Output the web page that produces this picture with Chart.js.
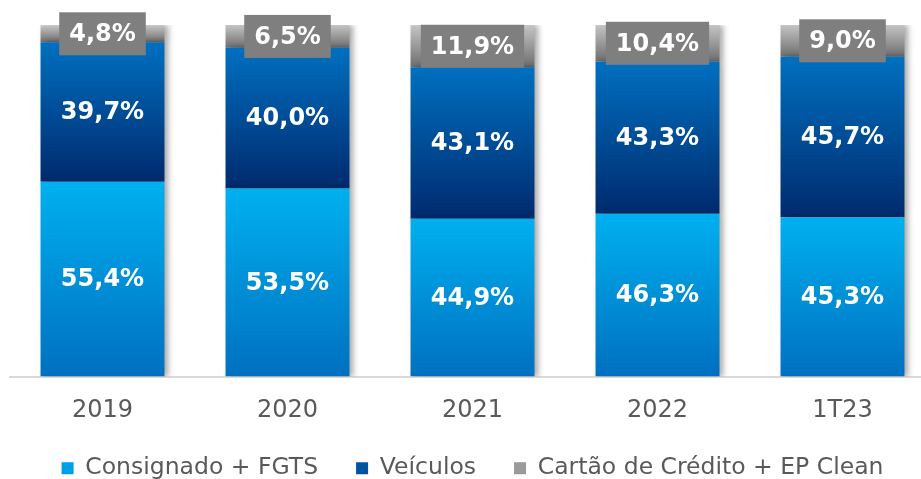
<!DOCTYPE html>
<html lang="pt">
<head>
    <meta charset="UTF-8">
    <title>Carteira por produto</title>
    <script src="https://cdn.jsdelivr.net/npm/chart.js"></script>
    <style>
        body {
            margin: 0;
            overflow: hidden;
            background: #ffffff;
        }
        #chart {
            display: block;
        }
    </style>
</head>
<body>
    <canvas id="chart" width="944" height="490"></canvas>

    <script>
        const categories = ['2019', '2020', '2021', '2022', '1T23'];
        const consignado = [55.4, 53.5, 44.9, 46.3, 45.3];
        const veiculos = [39.7, 40.0, 43.1, 43.3, 45.7];
        const cartao = [4.8, 6.5, 11.9, 10.4, 9.0];

        // vertical gradient over one stacked segment
        function segGradient(context, top, bottom) {
            const chart = context.chart;
            if (!chart.chartArea || context.type !== 'data') return top;
            const yScale = chart.scales.y;
            let start = 0;
            for (let k = 0; k < context.datasetIndex; k++) {
                start += chart.data.datasets[k].data[context.dataIndex];
            }
            const y0 = yScale.getPixelForValue(start);
            const y1 = yScale.getPixelForValue(start + context.raw);
            const g = chart.ctx.createLinearGradient(0, y1, 0, y0);
            g.addColorStop(0, top);
            g.addColorStop(1, bottom);
            return g;
        }

        function fmt(v) {
            return v.toFixed(1).replace('.', ',') + '%';
        }

        const legendColors = ['#00a0e6', '#00539f', '#9a9a9a'];

        // soft shadow on the right side of the bars
        const barShadow = {
            id: 'barShadow',
            beforeDatasetDraw(chart) {
                const ctx = chart.ctx;
                ctx.save();
                ctx.shadowColor = 'rgba(0,0,0,0.35)';
                ctx.shadowBlur = 6;
                ctx.shadowOffsetX = 4;
                ctx.shadowOffsetY = 0;
            },
            afterDatasetDraw(chart) {
                chart.ctx.restore();
            }
        };

        // value labels, the grey series gets a grey box
        const valueLabels = {
            id: 'valueLabels',
            afterDatasetsDraw(chart) {
                const ctx = chart.ctx;
                ctx.save();
                ctx.font = 'bold 24px "DejaVu Sans"';
                ctx.textAlign = 'center';
                ctx.textBaseline = 'middle';
                chart.data.datasets.forEach((ds, i) => {
                    const meta = chart.getDatasetMeta(i);
                    meta.data.forEach((bar, j) => {
                        const text = fmt(ds.data[j]);
                        const yc = (bar.y + bar.base) / 2;
                        if (i === 2) {
                            const w = ctx.measureText(text).width + 20;
                            ctx.fillStyle = '#7f7f7f';
                            ctx.fillRect(bar.x - w / 2, yc - 21.5, w, 43);
                        }
                        ctx.fillStyle = '#ffffff';
                        ctx.fillText(text, bar.x, yc + 1);
                    });
                });
                ctx.restore();
            }
        };

        new Chart(document.getElementById('chart'), {
            type: 'bar',
            data: {
                labels: categories,
                datasets: [
                    {
                        label: 'Consignado + FGTS',
                        data: consignado,
                        backgroundColor: c => segGradient(c, '#00b0f0', '#0070c0')
                    },
                    {
                        label: 'Veículos',
                        data: veiculos,
                        backgroundColor: c => segGradient(c, '#0070c0', '#002a6e')
                    },
                    {
                        label: 'Cartão de Crédito + EP Clean',
                        data: cartao,
                        backgroundColor: c => segGradient(c, '#c4c4c4', '#6e6e6e')
                    }
                ]
            },
            plugins: [barShadow, valueLabels],
            options: {
                responsive: false,
                animation: false,
                devicePixelRatio: 1,
                barPercentage: 0.67,
                categoryPercentage: 1,
                layout: {
                    padding: { left: 10, right: 9, top: 25, bottom: 0 }
                },
                scales: {
                    x: {
                        stacked: true,
                        z: 1,
                        grid: { display: false, drawTicks: false },
                        border: { display: true, color: '#d9d9d9', width: 2 },
                        ticks: {
                            padding: 20,
                            color: '#595959',
                            font: { family: 'DejaVu Sans', size: 24 }
                        },
                        afterFit(scale) {
                            scale.height = 42;
                        }
                    },
                    y: {
                        stacked: true,
                        display: false,
                        min: 0,
                        max: 100
                    }
                },
                plugins: {
                    tooltip: { enabled: false },
                    legend: {
                        position: 'bottom',
                        labels: {
                            padding: 38,
                            boxWidth: 12,
                            boxHeight: 12,
                            color: '#595959',
                            font: { family: 'DejaVu Sans', size: 23.5 },
                            generateLabels(chart) {
                                const items = Chart.defaults.plugins.legend.labels.generateLabels(chart);
                                items.forEach((item, i) => {
                                    item.fillStyle = legendColors[i];
                                    item.strokeStyle = legendColors[i];
                                    item.lineWidth = 0;
                                });
                                return items;
                            }
                        }
                    }
                }
            }
        });
    </script>
</body>
</html>
